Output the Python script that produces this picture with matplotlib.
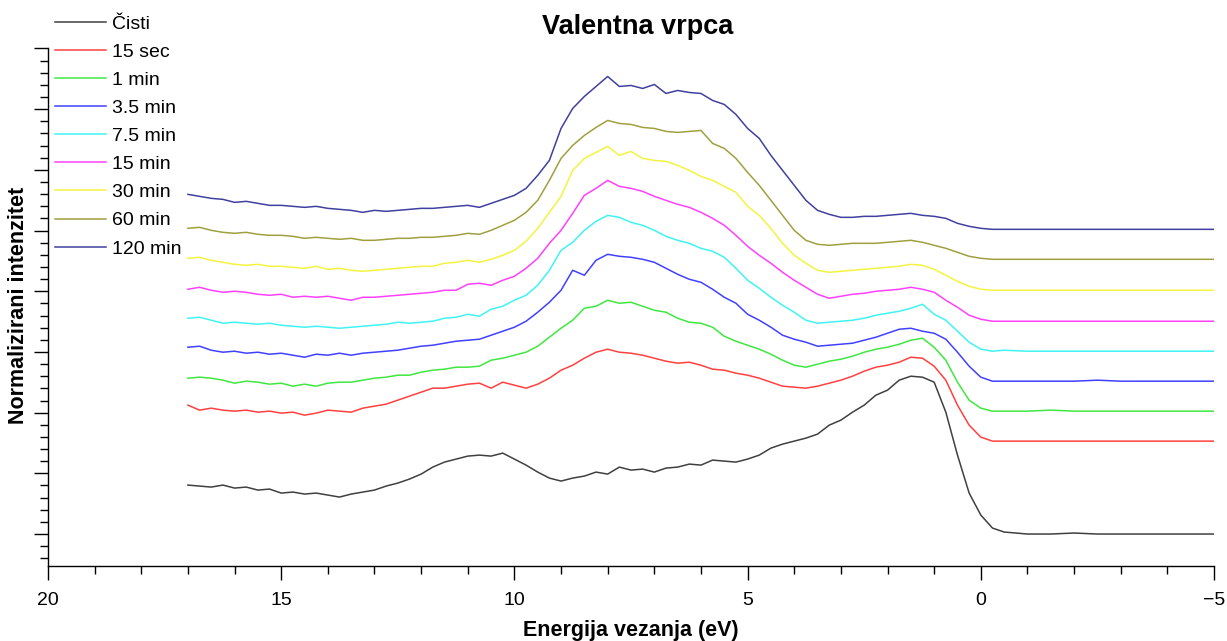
import numpy as np
import matplotlib
matplotlib.use('Agg')
import matplotlib.pyplot as plt
from matplotlib.ticker import MultipleLocator

plt.rcParams['font.family'] = ['Liberation Sans', 'DejaVu Sans']

# binding energy grid (eV): 0.25 eV steps from 17 to -0.25, then 0.5 eV steps in the flat tail
energy = np.r_[np.arange(17.0, -0.3, -0.25), np.arange(-0.5, -5.1, -0.5)]

# normalised intensity (arbitrary units, spectra already offset)
cisti = [81, 80, 79, 81, 78, 79, 76, 77, 73, 74,
         72, 73, 71, 69, 72, 74, 76, 80, 83, 87,
         92, 99, 104, 107, 110, 111, 110, 113, 107, 101,
         94, 88, 85, 88, 90, 94, 92, 99, 96, 97,
         94, 98, 99, 102, 101, 106, 105, 104, 107, 111,
         118, 122, 125, 128, 132, 141, 146, 154, 161, 171,
         176, 186, 190, 189, 184, 154, 111, 73, 51, 38,
         34, 32, 32, 33, 32, 32, 32, 32, 32, 32]

sec15 = [161, 156, 158, 156, 155, 156, 154, 155, 153, 154,
         151, 153, 156, 155, 154, 158, 160, 162, 166, 170,
         174, 178, 178, 180, 182, 183, 178, 184, 181, 178,
         182, 188, 196, 201, 208, 214, 217, 214, 213, 211,
         208, 205, 203, 204, 201, 197, 196, 193, 191, 188,
         184, 180, 179, 178, 180, 183, 186, 190, 195, 199,
         201, 204, 209, 208, 200, 186, 161, 141, 129, 125,
         125, 125, 125, 125, 125, 125, 125, 125, 125, 125]

min1 = [188, 189, 188, 186, 183, 185, 184, 182, 183, 180,
        182, 180, 183, 184, 184, 186, 188, 189, 191, 191,
        194, 196, 197, 199, 199, 200, 206, 208, 211, 214,
        220, 229, 238, 246, 258, 260, 266, 263, 264, 260,
        256, 254, 248, 244, 243, 239, 230, 225, 221, 217,
        212, 206, 201, 199, 202, 205, 207, 210, 214, 217,
        219, 222, 226, 228, 219, 206, 184, 166, 158, 155,
        155, 155, 156, 155, 155, 155, 155, 155, 155, 155]

min3_5 = [219, 220, 216, 214, 215, 213, 214, 212, 213, 211,
          209, 212, 211, 213, 211, 213, 214, 215, 216, 218,
          220, 221, 223, 225, 226, 227, 231, 235, 239, 245,
          254, 264, 276, 296, 291, 306, 312, 310, 309, 307,
          304, 298, 292, 287, 284, 277, 269, 263, 252, 246,
          239, 231, 227, 224, 220, 221, 222, 223, 226, 229,
          233, 237, 238, 235, 233, 227, 214, 200, 189, 185,
          185, 185, 185, 185, 186, 185, 185, 185, 185, 185]

min7_5 = [248, 249, 246, 243, 244, 243, 242, 243, 241, 240,
          239, 240, 239, 238, 239, 240, 241, 242, 244, 243,
          244, 245, 248, 249, 252, 250, 257, 260, 266, 271,
          281, 296, 316, 324, 336, 345, 351, 349, 344, 341,
          336, 330, 326, 323, 318, 315, 309, 298, 286, 278,
          269, 261, 254, 246, 243, 244, 245, 246, 248, 251,
          253, 255, 258, 262, 252, 246, 235, 224, 217, 215,
          216, 215, 215, 215, 215, 215, 215, 215, 215, 215]

min15 = [277, 279, 276, 274, 275, 274, 272, 271, 272, 269,
         270, 269, 270, 268, 266, 269, 269, 270, 271, 272,
         273, 274, 276, 276, 282, 283, 281, 286, 290, 298,
         308, 323, 336, 353, 371, 378, 386, 380, 378, 375,
         370, 366, 362, 359, 354, 348, 341, 331, 320, 311,
         303, 294, 286, 279, 272, 268, 270, 272, 273, 275,
         276, 277, 279, 277, 274, 266, 259, 251, 247, 245,
         245, 245, 245, 245, 245, 245, 245, 245, 245, 245]

min30 = [308, 309, 306, 304, 302, 301, 302, 300, 300, 299,
         298, 300, 297, 298, 296, 295, 296, 297, 298, 299,
         300, 300, 303, 304, 306, 304, 307, 311, 316, 325,
         338, 354, 370, 396, 408, 414, 420, 411, 415, 408,
         406, 405, 401, 396, 390, 386, 380, 374, 360, 351,
         338, 323, 311, 303, 296, 294, 295, 296, 297, 298,
         299, 300, 302, 301, 297, 291, 285, 280, 277, 276,
         276, 276, 276, 276, 276, 276, 276, 276, 276, 276]

min60 = [338, 339, 336, 334, 333, 334, 332, 331, 331, 330,
         328, 329, 328, 327, 328, 326, 326, 327, 328, 328,
         329, 329, 330, 331, 333, 332, 336, 341, 346, 354,
         366, 386, 408, 421, 431, 439, 446, 443, 442, 439,
         438, 435, 434, 435, 436, 423, 418, 408, 394, 381,
         366, 351, 336, 326, 322, 321, 322, 323, 323, 323,
         324, 325, 326, 324, 321, 318, 314, 310, 308, 307,
         307, 307, 307, 307, 307, 307, 307, 307, 307, 307]

min120 = [372, 370, 368, 367, 364, 365, 363, 361, 361, 360,
          359, 360, 358, 357, 356, 354, 356, 355, 356, 357,
          358, 358, 359, 360, 361, 359, 363, 367, 371, 378,
          391, 406, 438, 458, 470, 480, 490, 480, 481, 478,
          482, 473, 476, 474, 473, 466, 462, 452, 438, 428,
          411, 396, 381, 366, 356, 352, 349, 349, 350, 350,
          351, 352, 353, 351, 350, 348, 343, 340, 338, 337,
          337, 337, 337, 337, 337, 337, 337, 337, 337, 337]

labels = ['Čisti', '15 sec', '1 min', '3.5 min', '7.5 min', '15 min', '30 min', '60 min', '120 min']
colors = ['#000000', '#ff0000', '#00e000', '#0000ff', '#00f0f0', '#ff00ff', '#f0f000', '#808000', '#000080']
spectra = [cisti, sec15, min1, min3_5, min7_5, min15, min30, min60, min120]

fig = plt.figure(figsize=(12.27, 6.41), dpi=100)
ax = fig.add_axes([48 / 1227, 75 / 641, 1166 / 1227, 518 / 641])

lines = []
for i in range(0, len(spectra)):
    line, = ax.plot(energy, spectra[i], color=colors[i], linewidth=1.1, alpha=0.75, label=labels[i])
    lines.append(line)

ax.set_xlim(20, -5)
ax.set_ylim(0, 518.5)

ax.xaxis.set_major_locator(MultipleLocator(5))
ax.xaxis.set_minor_locator(MultipleLocator(1))
ax.yaxis.set_major_locator(MultipleLocator(60.75, offset=32))
ax.yaxis.set_minor_locator(MultipleLocator(12.15, offset=32))
ax.set_yticklabels([])

ax.tick_params(axis='both', which='major', direction='out', length=10, width=1, labelsize=14, pad=9)
ax.tick_params(axis='both', which='minor', direction='out', length=6, width=1)

ax.spines['top'].set_visible(False)
ax.spines['right'].set_visible(False)
ax.spines['left'].set_linewidth(1)
ax.spines['bottom'].set_linewidth(1)

fig.text(631 / 1227, 1 - 636 / 641, 'Energija vezanja (eV)', fontsize=15.5, fontweight='bold',
         ha='center', va='baseline')
fig.text(19 / 1227, 1 - 305 / 641, 'Normalizirani intenzitet', fontsize=15.5, fontweight='bold',
         ha='center', va='center', rotation=90)
fig.text(638 / 1227, 1 - 27 / 641, 'Valentna vrpca', fontsize=19.5, fontweight='bold', ha='center', va='center')

fig.legend(handles=lines, loc='upper left', bbox_to_anchor=(55 / 1227, 1 - 15 / 641),
           frameon=False, fontsize=14, handlelength=2.6, handletextpad=0.35,
           labelspacing=0.54, borderpad=0, borderaxespad=0)

fig.savefig('out.png', dpi=100)
